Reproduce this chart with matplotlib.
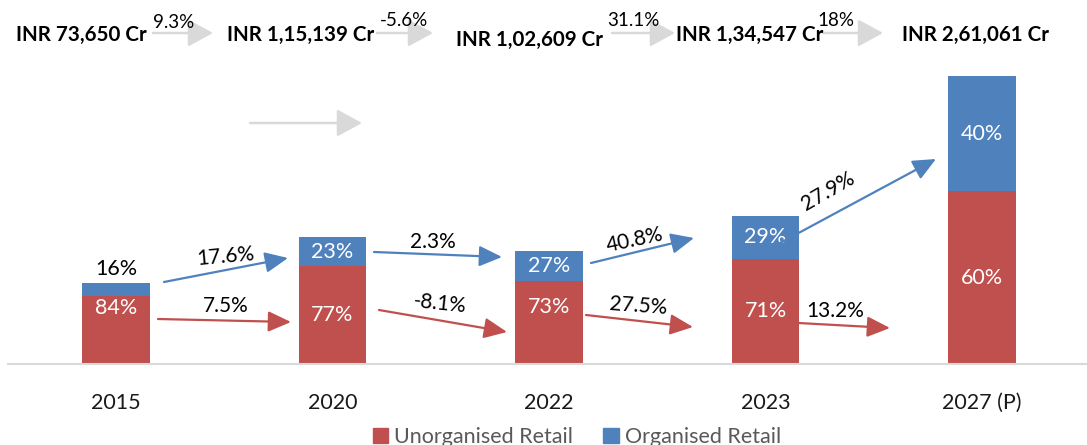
import matplotlib
matplotlib.use("Agg")
import matplotlib.pyplot as plt
from matplotlib.patches import Patch

# ---------------- data ----------------
years = ["2015", "2020", "2022", "2023", "2027 (P)"]
totals = [73650, 115139, 102609, 134547, 261061]
total_labels = ["INR 73,650 Cr", "INR 1,15,139 Cr", "INR 1,02,609 Cr",
                "INR 1,34,547 Cr", "INR 2,61,061 Cr"]
unorg_share = [84, 77, 73, 71, 60]
org_share = [16, 23, 27, 29, 40]
total_growth = ["9.3%", "-5.6%", "31.1%", "18%"]
org_growth = ["17.6%", "2.3%", "40.8%", "27.9%"]
unorg_growth = ["7.5%", "-8.1%", "27.5%", "13.2%"]

# ---------------- style ----------------
RED = "#C0504D"
BLUE = "#4F81BD"
GRAY = "#D9D9D9"
FONT = "Lato"
plt.rcParams["font.family"] = [FONT, "DejaVu Sans"]

W, H = 1087, 445
fig = plt.figure(figsize=(W / 100, H / 100), dpi=100)
ax = fig.add_axes([7.75 / W, 81 / H, 1082.5 / W, 331 / H])

x = list(range(len(years)))
unorg_vals = [t * s / 100 for t, s in zip(totals, unorg_share)]
org_vals = [t * s / 100 for t, s in zip(totals, org_share)]

ax.bar(x, unorg_vals, width=0.314, color=RED, zorder=2)
ax.bar(x, org_vals, width=0.314, bottom=unorg_vals, color=BLUE, zorder=2)

ax.set_xlim(-0.5, 4.5)
ax.set_ylim(0, 300000)
ax.set_xticks(x)
ax.set_xticklabels(years, fontsize=15.5, color="#1a1a1a")
ax.tick_params(axis="x", length=0, pad=21)
ax.set_yticks([])
for s in ["top", "right", "left"]:
    ax.spines[s].set_visible(False)
ax.spines["bottom"].set_color(GRAY)
ax.spines["bottom"].set_linewidth(1.5)

# labels inside bars (offsets in points, layout only)
red_off = [16, 0, 11, 0, 0]
for i in x:
    ax.annotate(f"{unorg_share[i]}%", (i, unorg_vals[i] / 2), xytext=(0, red_off[i]),
                textcoords="offset points", ha="center", va="center",
                color="white", fontsize=15.5, zorder=3)
    if i == 0:
        ax.annotate(f"{org_share[i]}%", (i, totals[i]), xytext=(0, 10),
                    textcoords="offset points", ha="center", va="center",
                    color="black", fontsize=15.5, zorder=3)
    else:
        ax.annotate(f"{org_share[i]}%", (i, unorg_vals[i] + org_vals[i] / 2),
                    ha="center", va="center", color="white", fontsize=15.5, zorder=3)


def fp(px, py):
    return (px, H - py)


def arrow(x0, y0, x1, y1, color, lw=1.6, scale=14, hl=1.0, hw=0.45):
    ax.annotate("", xy=fp(x1, y1), xytext=fp(x0, y0),
                xycoords="figure pixels", textcoords="figure pixels",
                arrowprops=dict(arrowstyle=f"-|>,head_length={hl},head_width={hw}",
                                color=color, lw=lw, mutation_scale=scale,
                                shrinkA=0, shrinkB=0))


def label(px, py, s, rot=0, size=15, weight="normal"):
    fig.text(px / W, 1 - py / H, s, ha="center", va="center", rotation=rot,
             fontsize=size, fontweight=weight, color="black")


# top totals and gray arrows
top_pos = [(81, 35), (301, 35), (530, 40), (750, 35), (975, 35)]
for (px, py), s in zip(top_pos, total_labels):
    label(px, py, s, size=14.8, weight="bold")
gray_arrows = [(153, 213, 33), (377, 433, 33), (612, 675, 33), (823, 883, 33)]
gray_lab = [(174, 22), (404, 21), (633, 21), (836, 21)]
for (a, b, y), (lx, ly), s in zip(gray_arrows, gray_lab, total_growth):
    arrow(a, y, b, y, GRAY, lw=1.8, scale=14, hl=1.1, hw=0.6)
    label(lx, ly, s, size=13.5)
arrow(250, 123, 362, 123, GRAY, lw=1.8, scale=14, hl=1.1, hw=0.6)

# organised growth arrows
org_arrows = [(164, 282, 288, 258), (374, 252, 502, 257),
              (591, 263, 694, 238), (780, 243, 936, 159)]
org_lab = [(226, 257, 5), (433, 242, 0), (635, 240, 12), (828, 191, 30)]
for (a, b, c, d), (lx, ly, r), s in zip(org_arrows, org_lab, org_growth):
    arrow(a, b, c, d, BLUE)
    label(lx, ly, s, rot=r)

# unorganised growth arrows
un_arrows = [(158, 319, 291, 322), (379, 310, 507, 332),
             (586, 315, 693, 327), (780, 322, 890, 328)]
un_lab = [(226, 306, 0), (440, 304, -6), (638, 306, -4), (835, 311, 0)]
for (a, b, c, d), (lx, ly, r), s in zip(un_arrows, un_lab, unorg_growth):
    arrow(a, b, c, d, RED)
    label(lx, ly, s, rot=r)

handles = [Patch(color=RED, label="Unorganised Retail"),
           Patch(color=BLUE, label="Organised Retail")]
fig.legend(handles=handles, loc="center", bbox_to_anchor=(577 / W, 1 - 437 / H),
           ncol=2, frameon=False, fontsize=15.5, labelcolor="#595959",
           handlelength=0.7, handleheight=0.7, handletextpad=0.3, columnspacing=1.4)

fig.savefig("out.png", dpi=100)
